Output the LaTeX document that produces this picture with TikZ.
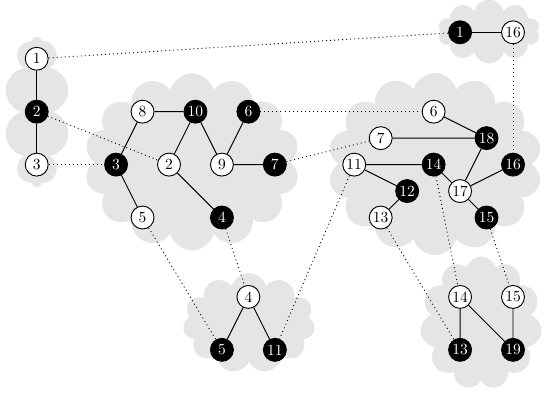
\documentclass[tikz,border=0pt]{standalone}
\usetikzlibrary{shapes.symbols}
\begin{document}
\begin{tikzpicture}[x=0.6cm,y=-0.6cm,
 wn/.style={circle,draw,fill=white,minimum size=0.52cm,inner sep=0pt,semithick},
 bn/.style={circle,draw,fill=black,text=white,minimum size=0.52cm,inner sep=0pt,semithick},
 cl/.style={cloud,fill=gray!20,cloud ignores aspect,cloud puffs=#1,inner sep=0pt},
 se/.style={semithick},
 de/.style={dotted,semithick}]
\useasboundingbox (-1.387,-1.221) rectangle (19.36,13.594);
% clouds
\node[cl=10,minimum width=2.49*0.6cm,minimum height=5.67*0.6cm] (cL) at (0.01,3.01) {};
\node[cl=10,minimum width=3.85*0.6cm,minimum height=2.42*0.6cm] (cT) at (17.09,-0.03) {};
\node[cl=14,minimum width=8.13*0.6cm,minimum height=6.69*0.6cm] (cA) at (5.87,4.9) {};
\node[cl=14,minimum width=8.09*0.6cm,minimum height=6.88*0.6cm] (cB) at (15.05,4.98) {};
\node[cl=11,minimum width=4.99*0.6cm,minimum height=3.78*0.6cm] (cC) at (8.02,10.99) {};
\node[cl=11,minimum width=4.61*0.6cm,minimum height=5.03*0.6cm] (cD) at (16.79,10.99) {};
% left
\node[wn] (l1) at (0,1) {1};
\node[bn] (l2) at (0,3) {2};
\node[wn] (l3) at (0,5) {3};
% top right
\node[bn] (t1) at (16,0) {1};
\node[wn] (t16) at (18,0) {16};
% cluster A
\node[wn] (a8) at (4,3) {8};
\node[bn] (a10) at (6,3) {10};
\node[bn] (a6) at (8,3) {6};
\node[bn] (a3) at (3,5) {3};
\node[wn] (a2) at (5,5) {2};
\node[wn] (a9) at (7,5) {9};
\node[bn] (a7) at (9,5) {7};
\node[wn] (a5) at (4,7) {5};
\node[bn] (a4) at (7,7) {4};
% cluster B
\node[wn] (b6) at (15,3) {6};
\node[wn] (b7) at (13,4) {7};
\node[bn] (b18) at (17,4) {18};
\node[wn] (b11) at (12,5) {11};
\node[bn] (b14) at (15,5) {14};
\node[bn] (b16) at (18,5) {16};
\node[bn] (b12) at (14,6) {12};
\node[wn] (b17) at (16,6) {17};
\node[wn] (b13) at (13,7) {13};
\node[bn] (b15) at (17,7) {15};
% cluster C
\node[wn] (c4) at (8,10) {4};
\node[bn] (c5) at (7,12) {5};
\node[bn] (c11) at (9,12) {11};
% cluster D
\node[wn] (d14) at (16,10) {14};
\node[wn] (d15) at (18,10) {15};
\node[bn] (d13) at (16,12) {13};
\node[bn] (d19) at (18,12) {19};
% solid edges
\draw[se] (l1) -- (l2) (l2) -- (l3);
\draw[se] (t1) -- (t16);
\draw[se] (a8) -- (a10) (a10) -- (a2) (a10) -- (a9) (a6) -- (a9) (a9) -- (a7)
 (a8) -- (a3) (a3) -- (a5) (a2) -- (a4);
\draw[se] (b6) -- (b18) (b7) -- (b18) (b11) -- (b14) (b11) -- (b12) (b12) -- (b13)
 (b14) -- (b17) (b18) -- (b17) (b16) -- (b17) (b17) -- (b15);
\draw[se] (c4) -- (c5) (c4) -- (c11);
\draw[se] (d14) -- (d13) (d14) -- (d19) (d15) -- (d19);
% dotted edges
\draw[de] (l1) -- (t1);
\draw[de] (l2) -- (a2);
\draw[de] (l3) -- (a3);
\draw[de] (t16) -- (b16);
\draw[de] (a6) -- (b6);
\draw[de] (a7) -- (b7);
\draw[de] (a5) -- (c5);
\draw[de] (a4) -- (c4);
\draw[de] (b11) -- (c11);
\draw[de] (b13) -- (d13);
\draw[de] (b14) -- (d14);
\draw[de] (b15) -- (d15);
\end{tikzpicture}
\end{document}
